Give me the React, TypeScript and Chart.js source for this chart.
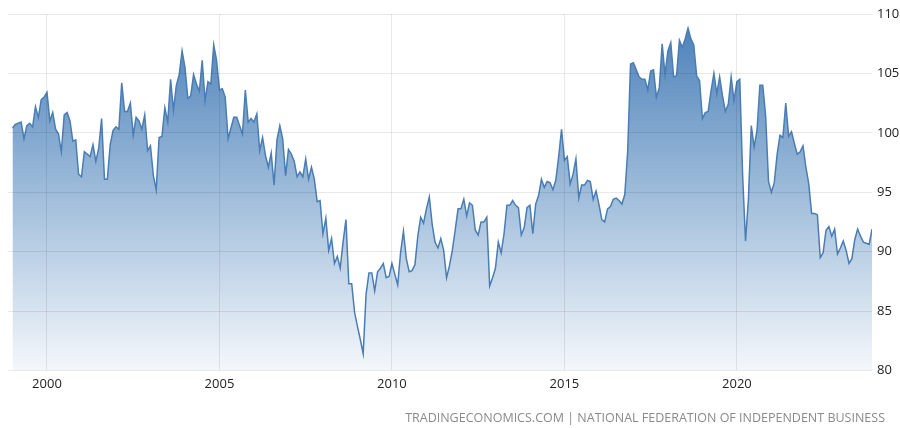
import React, { useEffect, useRef } from "react";
import { Chart, registerables } from "chart.js";

Chart.register(...registerables);

// Monthly index values, January..December of each year
const START_YEAR = 1999;
const y1999 = [100.4, 100.7, 100.8, 100.9, 99.5, 100.6, 100.8, 100.5, 102.2, 101.3, 102.8, 103.0];
const y2000 = [103.4, 101.0, 101.7, 100.3, 99.9, 98.4, 101.5, 101.7, 101.0, 99.3, 99.4, 96.5];
const y2001 = [96.3, 98.4, 98.2, 98.0, 99.0, 97.6, 98.7, 101.2, 96.1, 96.1, 99.0, 100.2];
const y2002 = [100.5, 100.3, 104.2, 101.8, 101.8, 102.5, 99.8, 101.3, 101.0, 100.3, 101.5, 98.5];
const y2003 = [98.9, 96.4, 95.2, 99.6, 99.7, 102.1, 100.9, 104.5, 101.9, 104.0, 104.9, 106.9];
const y2004 = [105.5, 102.9, 103.1, 104.9, 104.1, 103.5, 106.1, 102.7, 104.3, 104.1, 107.4, 106.1];
const y2005 = [103.6, 103.7, 103.0, 99.5, 100.4, 101.3, 101.3, 100.6, 99.9, 103.6, 100.9, 101.2];
const y2006 = [100.9, 101.6, 98.5, 99.6, 98.1, 97.1, 98.3, 95.6, 99.4, 100.6, 99.5, 96.4];
const y2007 = [98.6, 98.2, 97.6, 96.3, 96.7, 96.3, 97.8, 96.1, 97.1, 96.1, 94.2, 94.3];
const y2008 = [91.5, 92.8, 90.1, 91.1, 89.0, 89.6, 88.6, 90.8, 92.7, 87.3, 87.3, 84.9];
const y2009 = [83.7, 82.6, 81.4, 86.4, 88.2, 88.2, 86.7, 88.3, 88.6, 89.0, 87.8, 87.9];
const y2010 = [89.0, 88.1, 87.2, 89.9, 91.7, 89.4, 88.3, 88.4, 88.9, 91.3, 92.9, 92.4];
const y2011 = [93.6, 94.6, 92.3, 90.8, 90.3, 91.1, 90.1, 87.8, 88.8, 90.1, 91.8, 93.6];
const y2012 = [93.6, 94.4, 93.0, 94.1, 93.9, 91.8, 91.4, 92.5, 92.5, 92.9, 87.1, 87.8];
const y2013 = [88.6, 90.8, 89.9, 91.5, 93.9, 93.9, 94.3, 93.9, 93.7, 91.4, 92.0, 93.7];
const y2014 = [93.9, 91.5, 94.0, 94.7, 96.1, 95.4, 95.9, 95.8, 95.2, 96.0, 98.0, 100.3];
const y2015 = [97.7, 98.0, 95.7, 96.5, 97.8, 94.5, 95.6, 95.6, 96.0, 95.9, 94.4, 95.1];
const y2016 = [94.0, 92.7, 92.5, 93.6, 93.8, 94.4, 94.5, 94.3, 94.0, 94.8, 98.4, 105.8];
const y2017 = [105.9, 105.3, 104.7, 104.5, 104.5, 103.6, 105.2, 105.3, 103.0, 103.8, 107.5, 104.9];
const y2018 = [106.9, 107.6, 104.7, 104.8, 107.8, 107.2, 107.9, 108.8, 107.9, 107.4, 104.8, 104.4];
const y2019 = [101.2, 101.7, 101.8, 103.5, 105.0, 103.3, 104.7, 103.1, 101.8, 102.4, 104.7, 102.7];
const y2020 = [104.3, 104.5, 96.4, 90.9, 94.4, 100.6, 98.8, 100.2, 104.0, 104.0, 101.4, 95.9];
const y2021 = [95.0, 95.8, 98.2, 99.8, 99.6, 102.5, 99.7, 100.1, 99.1, 98.2, 98.4, 98.9];
const y2022 = [97.1, 95.7, 93.2, 93.2, 93.1, 89.5, 89.9, 91.8, 92.1, 91.3, 91.9, 89.8];
const y2023 = [90.3, 90.9, 90.1, 89.0, 89.4, 91.0, 91.9, 91.3, 90.8, 90.7, 90.6, 91.9];

const years = [
  y1999, y2000, y2001, y2002, y2003, y2004, y2005, y2006, y2007, y2008,
  y2009, y2010, y2011, y2012, y2013, y2014, y2015, y2016, y2017, y2018,
  y2019, y2020, y2021, y2022, y2023,
];

const xTickLabels = [2000, 2005, 2010, 2015, 2020];
const yTickLabels = [80, 85, 90, 95, 100, 105, 110];
const SOURCE_TEXT = "TRADINGECONOMICS.COM | NATIONAL FEDERATION OF INDEPENDENT BUSINESS";

const X_MIN = 1998.87;
const X_MAX = 2023 + 11 / 12;

export default function App() {
  const ref = useRef<HTMLCanvasElement>(null);

  useEffect(() => {
    document.body.style.margin = "0";
    const values = years.flat();
    const points = values.map((v, i) => ({ x: START_YEAR + i / 12, y: v }));

    const sourcePlugin = {
      id: "sourceText",
      afterDraw(chart: any) {
        const c = chart.ctx;
        c.save();
        c.font = "12.5px 'Open Sans'";
        c.fillStyle = "#8a8a8a";
        c.textAlign = "right";
        c.textBaseline = "middle";
        c.fillText(SOURCE_TEXT, 885, 418);
        c.restore();
      },
    };

    const tickFont = { family: "'Open Sans'", size: 13 };
    const gridColor = "rgba(0,0,0,0.085)";

    const chart = new Chart(ref.current as HTMLCanvasElement, {
      type: "line",
      data: {
        datasets: [
          {
            data: points,
            borderColor: "#4a7db3",
            borderWidth: 1.5,
            pointRadius: 0,
            tension: 0,
            fill: "start",
            backgroundColor: (ctx: any) => {
              const { chart } = ctx;
              const area = chart.chartArea;
              if (!area) return "rgba(74,125,179,0.5)";
              const g = chart.ctx.createLinearGradient(0, area.top, 0, area.bottom);
              g.addColorStop(0, "rgb(72,126,184)");
              g.addColorStop(0.5, "rgb(158,188,218)");
              g.addColorStop(1, "rgb(244,247,251)");
              return g;
            },
          },
        ],
      },
      options: {
        animation: false,
        responsive: false,
        layout: { padding: { top: 14, left: 8, right: 0, bottom: 30 } },
        plugins: {
          legend: { display: false },
          tooltip: { enabled: false },
        },
        scales: {
          x: {
            type: "linear",
            min: X_MIN,
            max: X_MAX,
            afterBuildTicks: (s: any) => {
              s.ticks = xTickLabels.map((v) => ({ value: v }));
            },
            ticks: {
              font: tickFont,
              color: "#222222",
              padding: 6,
              maxRotation: 0,
              callback: (v: any) => String(v),
            },
            grid: { color: gridColor, drawTicks: false, z: 1 },
            border: { display: false },
          },
          y: {
            position: "right",
            min: 80,
            max: 110,
            afterBuildTicks: (s: any) => {
              s.ticks = yTickLabels.map((v) => ({ value: v }));
            },
            afterFit: (s: any) => {
              s.width = 28;
            },
            ticks: {
              font: tickFont,
              color: "#222222",
              padding: 5,
              callback: (v: any) => String(v),
            },
            grid: { color: gridColor, drawTicks: false, z: 1 },
            border: { display: false },
          },
        },
      },
      plugins: [sourcePlugin],
    } as any);

    return () => chart.destroy();
  }, []);

  return (
    <div style={{ width: 900, height: 428 }}>
      <canvas ref={ref} width={900} height={428} style={{ display: "block" }} />
    </div>
  );
}
